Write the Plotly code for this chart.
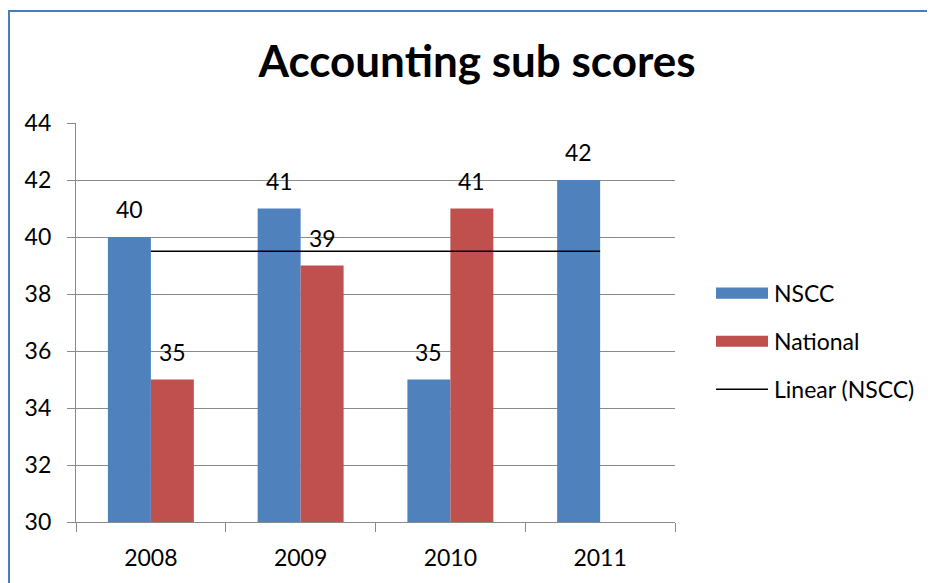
import numpy as np
import plotly.graph_objects as go

# ---- data ----
years = ["2008", "2009", "2010", "2011"]
nscc = [40, 41, 35, 42]
national = [35, 39, 41, None]
y_ticks = [30, 32, 34, 36, 38, 40, 42, 44]
title_text = "Accounting sub scores"
series_names = ["NSCC", "National", "Linear (NSCC)"]

BLUE = "#4F81BD"
RED = "#C0504D"
GRID = "#8A8A8A"
BORDER = "#4A7EBB"
FONT = "Lato, Open Sans, sans-serif"

W, H = 935, 583
OFF = 8  # page body margin offset
# plot area in page pixels: x 76..675, y 123..521.7
L = 76 - OFF
R = W - (675 - OFF)
T = 123 - OFF
B = H - (521.7 - OFF)

def px_x(px):
    return (px - OFF - L) / (W - L - R)

def px_y(py):
    return (H - B - (py - OFF)) / (H - T - B)

# linear trendline (least squares on category index)
idx = np.arange(1, len(nscc) + 1)
slope, intercept = np.polyfit(idx, np.array(nscc, dtype=float), 1)
trend = [float(v) for v in (slope * idx + intercept)]

fig = go.Figure()
fig.add_trace(go.Bar(x=years, y=nscc, name=series_names[0], marker_color=BLUE,
                     marker_line_width=0, showlegend=False))
fig.add_trace(go.Bar(x=years, y=national, name=series_names[1], marker_color=RED,
                     marker_line_width=0, showlegend=False))
fig.add_trace(go.Scatter(x=years, y=trend, mode="lines", name=series_names[2],
                         line=dict(color="black", width=1.5), showlegend=False))

# data labels (x given as category index)
for series, shift in ((nscc, -21.5), (national, 21.5)):
    for i, v in enumerate(series):
        if v is None:
            continue
        fig.add_annotation(x=i, y=v, xref="x", yref="y", text=str(v), showarrow=False,
                           xshift=shift, yshift=28, yanchor="middle",
                           font=dict(family=FONT, size=23, color="black"))

# custom legend
legend_rows = [(series_names[0], BLUE, "rect", 293),
               (series_names[1], RED, "rect", 341),
               (series_names[2], "black", "line", 389)]
for name, col, kind, cy in legend_rows:
    if kind == "rect":
        fig.add_shape(type="rect", xref="paper", yref="paper",
                      x0=px_x(716), x1=px_x(768), y0=px_y(cy + 5.5), y1=px_y(cy - 5.5),
                      fillcolor=col, line=dict(width=0))
    else:
        fig.add_shape(type="line", xref="paper", yref="paper",
                      x0=px_x(716), x1=px_x(768), y0=px_y(cy), y1=px_y(cy),
                      line=dict(color=col, width=1.5))
    fig.add_annotation(xref="paper", yref="paper", x=px_x(772), y=px_y(cy),
                       xanchor="left", yanchor="middle", text=name, showarrow=False,
                       font=dict(family=FONT, size=23, color="black"))

# outer chart border
fig.add_shape(type="rect", xref="paper", yref="paper",
              x0=px_x(9), x1=px_x(960), y0=px_y(620), y1=px_y(11),
              line=dict(color=BORDER, width=2), fillcolor="rgba(0,0,0,0)")

fig.update_layout(
    width=W, height=H,
    margin=dict(l=L, r=R, t=T, b=B, autoexpand=False),
    paper_bgcolor="white", plot_bgcolor="white",
    barmode="group", bargap=0.426, bargroupgap=0,
    title=dict(text="<b>" + title_text + "</b>", x=(477 - OFF) / W, xanchor="center",
               xref="container", yref="container", y=1 - (62 - OFF) / H, yanchor="middle",
               font=dict(family=FONT, size=44, color="black")),
    font=dict(family=FONT, size=23, color="black"),
)
fig.update_xaxes(type="category", range=[-0.5, 3.5], autorange=False, automargin=False,
                 showline=True, linecolor=GRID, linewidth=1.3,
                 ticks="outside", tickson="boundaries", ticklen=9, tickcolor=GRID,
                 tickwidth=1.3, showgrid=False, ticklabelstandoff=15, tickangle=0,
                 tickfont=dict(family=FONT, size=23, color="black"))
fig.update_yaxes(range=[30, 44], autorange=False, automargin=False,
                 tickvals=y_ticks, ticktext=[str(v) for v in y_ticks],
                 showline=True, linecolor=GRID, linewidth=1.3,
                 ticks="outside", ticklen=8, tickcolor=GRID, tickwidth=1.3,
                 showgrid=True, gridcolor=GRID, gridwidth=1.3, zeroline=False,
                 ticklabelstandoff=11,
                 tickfont=dict(family=FONT, size=23, color="black"))

fig.write_html("out.html")
